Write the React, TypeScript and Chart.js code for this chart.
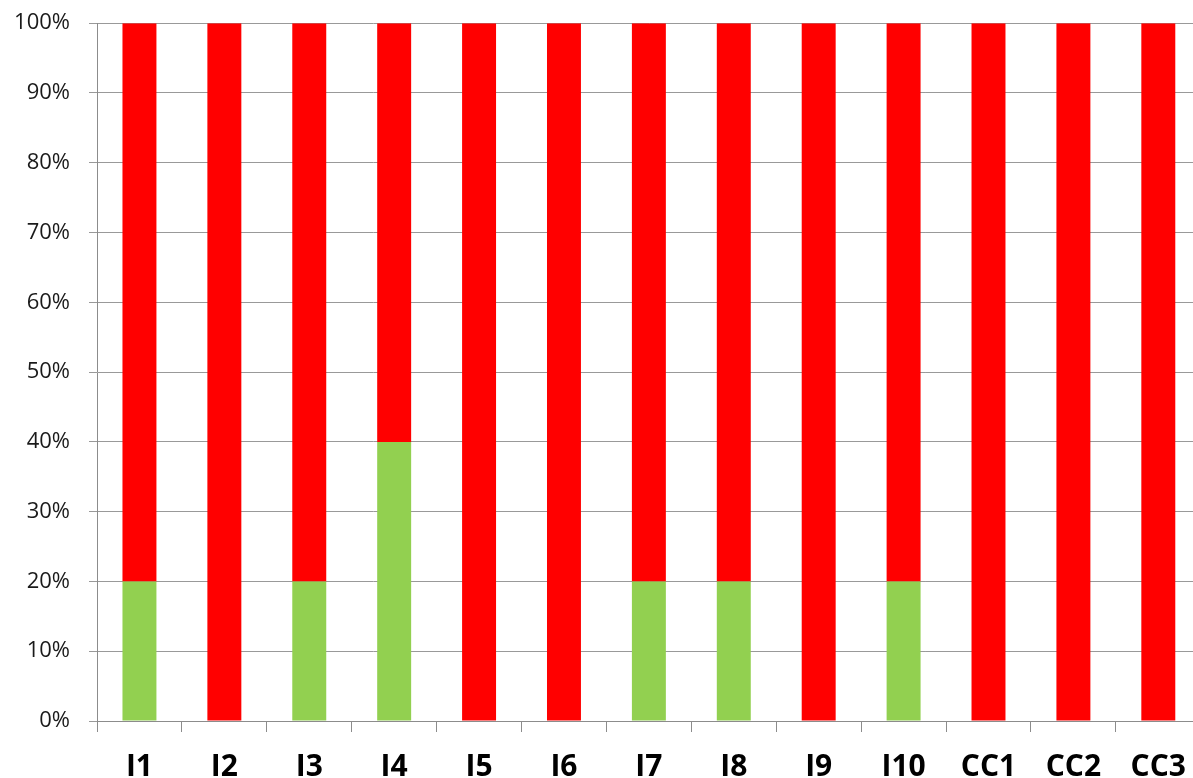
import React, { useEffect, useRef } from "react";
import { Chart, registerables } from "chart.js";

Chart.register(...registerables);

const categories = ["I1", "I2", "I3", "I4", "I5", "I6", "I7", "I8", "I9", "I10", "CC1", "CC2", "CC3"];
const greenValues = [20, 0, 20, 40, 0, 0, 20, 20, 0, 20, 0, 0, 0];
const redValues = [80, 100, 80, 60, 100, 100, 80, 80, 100, 80, 100, 100, 100];
const yTicks = [0, 10, 20, 30, 40, 50, 60, 70, 80, 90, 100];

const SHIFT = 9;
const CANVAS_W = 1203;
const CANVAS_H = 778 + SHIFT;

export default function App() {
  const ref = useRef<HTMLCanvasElement | null>(null);

  useEffect(() => {
    if (!ref.current) return;
    const chart = new Chart(ref.current, {
      type: "bar",
      data: {
        labels: categories,
        datasets: [
          {
            label: "green",
            data: greenValues,
            backgroundColor: "#92D050",
            borderWidth: 0,
            categoryPercentage: 1,
            barPercentage: 0.4,
          },
          {
            label: "red",
            data: redValues,
            backgroundColor: "#FF0000",
            borderWidth: 0,
            categoryPercentage: 1,
            barPercentage: 0.4,
          },
        ],
      },
      options: {
        responsive: false,
        animation: false,
        devicePixelRatio: 1,
        layout: { padding: { top: 14, left: 0, right: 0, bottom: 0 } },
        plugins: {
          legend: { display: false },
          tooltip: { enabled: false },
        },
        scales: {
          x: {
            stacked: true,
            grid: {
              drawOnChartArea: false,
              drawTicks: true,
              tickLength: 11,
              color: "#8c8c8c",
              lineWidth: 1,
            },
            border: { display: true, color: "#8c8c8c", width: 1 },
            ticks: {
              color: "#000000",
              font: { family: "Open Sans", size: 30, weight: "bold" },
              padding: 17,
              maxRotation: 0,
              autoSkip: false,
            },
            afterFit: (scale: any) => {
              scale.height = 778 - 721;
            },
          },
          y: {
            stacked: true,
            min: 0,
            max: 100,
            afterBuildTicks: (scale: any) => {
              scale.ticks = yTicks.map((v) => ({ value: v }));
            },
            ticks: {
              color: "#1a1a1a",
              font: { family: "Open Sans", size: 22 },
              padding: 19,
              callback: (v: any) => v + "%",
            },
            grid: {
              color: "#999999",
              lineWidth: 1,
              drawTicks: true,
              tickLength: 8,
            },
            border: { display: true, color: "#8c8c8c", width: 1 },
            afterFit: (scale: any) => {
              scale.width = 97;
            },
          },
        },
      },
    });
    return () => chart.destroy();
  }, []);

  return (
    <div
      style={{
        position: "fixed",
        left: 0,
        top: 0,
        width: 1193,
        height: 778,
        overflow: "hidden",
        background: "#ffffff",
      }}
    >
      <canvas
        ref={ref}
        width={CANVAS_W}
        height={CANVAS_H}
        style={{
          position: "absolute",
          left: 0,
          top: -SHIFT,
          width: CANVAS_W,
          height: CANVAS_H,
          display: "block",
        }}
      />
    </div>
  );
}
